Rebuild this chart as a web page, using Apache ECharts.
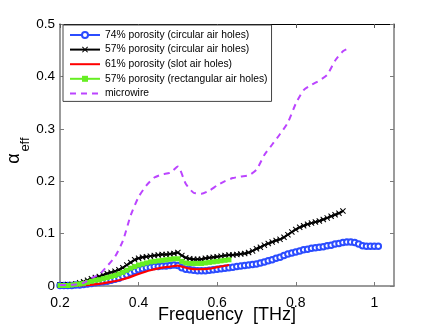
<!DOCTYPE html>
<html>
<head>
<meta charset="utf-8">
<script src="https://cdn.jsdelivr.net/npm/echarts@6/dist/echarts.min.js"></script>
<style>html,body{margin:0;padding:0;background:#fff;}#c{width:435px;height:327px;}</style>
</head>
<body>
<div id="c"></div>
<script>
// ---- data ----
const xTicks = [0.2, 0.4, 0.6, 0.8, 1.0];
const yTicks = [0, 0.1, 0.2, 0.3, 0.4, 0.5];

const seriesNames = [
  '74% porosity (circular air holes)',
  '57% porosity (circular air holes)',
  '61% porosity (slot air holes)',
  '57% porosity (rectangular air holes)',
  'microwire'
];

const freqBlue = [0.20,0.21,0.22,0.23,0.24,0.25,0.26,0.27,0.28,0.29,0.30,0.31,0.32,0.33,0.34,0.35,0.36,0.37,0.38,0.39,0.40,0.41,0.42,0.43,0.44,0.45,0.46,0.47,0.48,0.49,0.50,0.51,0.52,0.53,0.54,0.55,0.56,0.57,0.58,0.59,0.60,0.61,0.62,0.63,0.64,0.65,0.66,0.67,0.68,0.69,0.70,0.71,0.72,0.73,0.74,0.75,0.76,0.77,0.78,0.79,0.80,0.81,0.82,0.83,0.84,0.85,0.86,0.87,0.88,0.89,0.90,0.91,0.92,0.93,0.94,0.95,0.96,0.97,0.98,0.99,1.00,1.01];
const alphaBlue = [0.001,0.001,0.001,0.001,0.002,0.002,0.003,0.004,0.005,0.006,0.007,0.008,0.009,0.011,0.013,0.015,0.018,0.021,0.025,0.028,0.031,0.033,0.035,0.036,0.037,0.037,0.038,0.038,0.039,0.040,0.039,0.035,0.032,0.031,0.030,0.029,0.029,0.029,0.030,0.031,0.032,0.033,0.034,0.035,0.036,0.037,0.038,0.039,0.040,0.041,0.042,0.044,0.046,0.048,0.050,0.053,0.055,0.058,0.061,0.063,0.065,0.067,0.069,0.070,0.072,0.073,0.074,0.075,0.077,0.078,0.080,0.081,0.083,0.084,0.084,0.083,0.080,0.077,0.076,0.076,0.076,0.076];

const freqBlack = [0.20,0.21,0.22,0.23,0.24,0.25,0.26,0.27,0.28,0.29,0.30,0.31,0.32,0.33,0.34,0.35,0.36,0.37,0.38,0.39,0.40,0.41,0.42,0.43,0.44,0.45,0.46,0.47,0.48,0.49,0.50,0.51,0.52,0.53,0.54,0.55,0.56,0.57,0.58,0.59,0.60,0.61,0.62,0.63,0.64,0.65,0.66,0.67,0.68,0.69,0.70,0.71,0.72,0.73,0.74,0.75,0.76,0.77,0.78,0.79,0.80,0.81,0.82,0.83,0.84,0.85,0.86,0.87,0.88,0.89,0.90,0.91,0.92];
const alphaBlack = [0.002,0.002,0.003,0.003,0.004,0.006,0.008,0.011,0.014,0.016,0.018,0.021,0.024,0.026,0.028,0.031,0.035,0.040,0.045,0.050,0.053,0.055,0.056,0.057,0.058,0.059,0.060,0.060,0.061,0.062,0.064,0.058,0.054,0.052,0.051,0.051,0.051,0.053,0.054,0.055,0.056,0.057,0.058,0.059,0.059,0.060,0.061,0.062,0.064,0.067,0.071,0.074,0.078,0.081,0.084,0.087,0.089,0.093,0.098,0.103,0.108,0.112,0.115,0.118,0.120,0.122,0.124,0.127,0.130,0.133,0.136,0.139,0.143];

const freqRed = [0.20,0.25,0.30,0.33,0.35,0.37,0.40,0.43,0.46,0.48,0.50,0.51,0.53,0.55,0.58,0.60,0.63];
const alphaRed = [0.000,0.001,0.004,0.008,0.011,0.015,0.023,0.030,0.035,0.037,0.039,0.037,0.033,0.032,0.033,0.036,0.040];

const freqGreen = [0.20,0.21,0.22,0.23,0.24,0.25,0.26,0.27,0.28,0.29,0.30,0.31,0.32,0.33,0.34,0.35,0.36,0.37,0.38,0.39,0.40,0.41,0.42,0.43,0.44,0.45,0.46,0.47,0.48,0.49,0.50,0.51,0.52,0.53,0.54,0.55,0.56,0.57,0.58,0.59,0.60,0.61,0.62,0.63];
const alphaGreen = [0.001,0.001,0.001,0.002,0.003,0.004,0.005,0.007,0.009,0.011,0.012,0.014,0.016,0.018,0.020,0.023,0.026,0.030,0.034,0.037,0.040,0.042,0.044,0.046,0.047,0.048,0.049,0.050,0.051,0.052,0.052,0.047,0.044,0.043,0.043,0.043,0.043,0.044,0.045,0.046,0.047,0.048,0.049,0.050];

const freqWire = [0.20,0.22,0.24,0.26,0.28,0.30,0.32,0.34,0.36,0.38,0.40,0.42,0.44,0.46,0.48,0.50,0.52,0.54,0.56,0.58,0.60,0.62,0.64,0.66,0.68,0.70,0.72,0.74,0.76,0.78,0.80,0.82,0.84,0.86,0.88,0.90,0.92,0.93];
const alphaWire = [0.002,0.002,0.003,0.006,0.015,0.022,0.038,0.056,0.086,0.135,0.170,0.192,0.207,0.213,0.216,0.228,0.195,0.178,0.176,0.182,0.192,0.200,0.206,0.209,0.211,0.222,0.250,0.270,0.290,0.312,0.348,0.374,0.384,0.392,0.403,0.430,0.448,0.452];

// ---- chart ----
const pairs = (xs, ys) => xs.map((x, i) => [x, ys[i]]);
const FONT = '"Liberation Sans", Arial, Helvetica, sans-serif';
const GL = 60, GR = 394, GT = 24, GB = 286;
const xMin = 0.2, xMax = 1.05;
const crossPath = 'path://M0,1.2L1.2,0L5,3.8L8.8,0L10,1.2L6.2,5L10,8.8L8.8,10L5,6.2L1.2,10L0,8.8L3.8,5Z';
const fmt = v => String(+(+v).toFixed(2));
const CLEAR = 'rgba(0,0,0,0)';

const chart = echarts.init(document.getElementById('c'), null, {renderer: 'canvas'});
chart.setOption({
  animation: false,
  backgroundColor: '#fff',
  grid: {left: GL, right: 435 - GR, top: GT, bottom: 327 - GB, containLabel: false, outerBoundsMode: 'none'},
  legend: {
    orient: 'vertical', left: 63, top: 25,
    padding: [5, 4, 3, 6], itemGap: 4.6, itemWidth: 30, itemHeight: 7.5,
    backgroundColor: '#fff', borderColor: '#444', borderWidth: 1, borderRadius: 0,
    textStyle: {fontFamily: FONT, fontSize: 10.3, color: '#000'},
    data: [
      {name: seriesNames[0]},
      {name: seriesNames[1]},
      {name: seriesNames[2], itemStyle: {color: CLEAR, borderColor: CLEAR, borderWidth: 0}},
      {name: seriesNames[3]},
      {name: seriesNames[4], itemStyle: {color: CLEAR, borderColor: CLEAR, borderWidth: 0}}
    ]
  },
  xAxis: [{
    type: 'value', min: xMin, max: xMax, interval: 0.2, position: 'bottom',
    name: 'Frequency  [THz]', nameLocation: 'middle', nameGap: 20, nameMoveOverlap: false,
    nameTextStyle: {fontFamily: FONT, fontSize: 18, color: '#000'},
    axisLine: {show: true, onZero: false, lineStyle: {color: '#7a7a7a', width: 1.5}},
    axisTick: {show: true, inside: true, length: 4, lineStyle: {color: '#7a7a7a'}},
    axisLabel: {show: true, margin: 10, fontFamily: FONT, fontSize: 14, color: '#000', showMaxLabel: false,
      formatter: v => xTicks.some(t => Math.abs(t - v) < 1e-6) ? fmt(v) : ''},
    splitLine: {show: false}
  }, {
    type: 'value', min: xMin, max: xMax, interval: 0.2, position: 'top',
    axisLine: {show: true, onZero: false, lineStyle: {color: '#000', width: 1}},
    axisTick: {show: true, inside: true, length: 4, lineStyle: {color: '#555'}},
    axisLabel: {show: false}, splitLine: {show: false}
  }],
  yAxis: [{
    type: 'value', min: 0, max: 0.5, interval: 0.1, position: 'left',
    axisLine: {show: true, onZero: false, lineStyle: {color: '#7a7a7a', width: 1.5}},
    axisTick: {show: true, inside: true, length: 4, lineStyle: {color: '#7a7a7a'}},
    axisLabel: {show: true, margin: 5, fontFamily: FONT, fontSize: 13.5, color: '#000',
      formatter: v => yTicks.some(t => Math.abs(t - v) < 1e-6) ? fmt(v) : ''},
    splitLine: {show: false}
  }, {
    type: 'value', min: 0, max: 0.5, interval: 0.1, position: 'right',
    axisLine: {show: true, onZero: false, lineStyle: {color: '#7a7a7a', width: 1.5}},
    axisTick: {show: true, inside: true, length: 4, lineStyle: {color: '#7a7a7a'}},
    axisLabel: {show: false}, splitLine: {show: false}
  }],
  graphic: [
    {type: 'text', x: 14, y: 158.5, rotation: Math.PI / 2,
      style: {text: 'α', font: '18px ' + FONT, fill: '#000', align: 'center', verticalAlign: 'middle'}},
    {type: 'text', x: 25.5, y: 144.5, rotation: Math.PI / 2,
      style: {text: 'eff', font: '13px ' + FONT, fill: '#000', align: 'center', verticalAlign: 'middle'}}
  ],
  series: [
    {name: seriesNames[0], type: 'line', z: 2, data: pairs(freqBlue, alphaBlue),
      symbol: 'emptyCircle', symbolSize: 5.5, showAllSymbol: true,
      lineStyle: {color: '#2b4cff', width: 2}, itemStyle: {color: '#2b4cff', borderWidth: 1.3}},
    {name: seriesNames[1], type: 'line', z: 3, data: pairs(freqBlack, alphaBlack),
      symbol: crossPath, symbolSize: 6, showAllSymbol: true,
      lineStyle: {color: '#000', width: 2}, itemStyle: {color: '#000'}},
    {name: seriesNames[2], type: 'line', z: 4, data: pairs(freqRed, alphaRed),
      symbol: 'circle', showSymbol: false, smooth: 0.3,
      lineStyle: {color: '#ff0000', width: 2.2}, itemStyle: {color: '#ff0000'}},
    {name: seriesNames[3], type: 'line', z: 5, data: pairs(freqGreen, alphaGreen),
      symbol: 'rect', symbolSize: 5, showAllSymbol: true,
      lineStyle: {color: '#66ee22', width: 2.5}, itemStyle: {color: '#66ee22'}},
    {name: seriesNames[4], type: 'line', z: 6, data: pairs(freqWire, alphaWire),
      symbol: 'circle', showSymbol: false, smooth: 0.2,
      lineStyle: {color: '#bb44ff', width: 2, type: [6, 5]}, itemStyle: {color: '#bb44ff'}}
  ]
});
</script>
</body>
</html>
